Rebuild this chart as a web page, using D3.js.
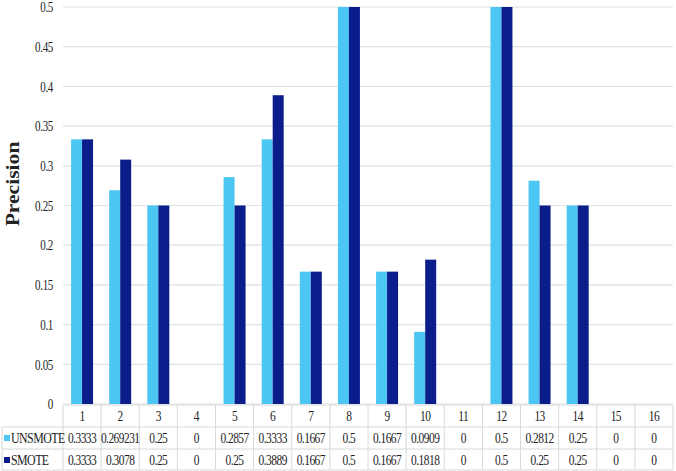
<!DOCTYPE html>
<html>
<head>
<meta charset="utf-8">
<script src="https://cdnjs.cloudflare.com/ajax/libs/d3/7.8.5/d3.min.js"></script>
<style>
  body { margin: 0; background: #fff; }
  text { font-family: "Liberation Serif", "DejaVu Serif", serif; fill: #222; }
</style>
</head>
<body>
<script>
const width = 676;
const height = 471;

// data
const categories = ["1","2","3","4","5","6","7","8","9","10","11","12","13","14","15","16"];
const unsmote = [0.3333, 0.269231, 0.25, 0, 0.2857, 0.3333, 0.1667, 0.5, 0.1667, 0.0909, 0, 0.5, 0.2812, 0.25, 0, 0];
const smote   = [0.3333, 0.3078, 0.25, 0, 0.25, 0.3889, 0.1667, 0.5, 0.1667, 0.1818, 0, 0.5, 0.25, 0.25, 0, 0];
const unsmoteLabels = ["0.3333","0.269231","0.25","0","0.2857","0.3333","0.1667","0.5","0.1667","0.0909","0","0.5","0.2812","0.25","0","0"];
const smoteLabels   = ["0.3333","0.3078","0.25","0","0.25","0.3889","0.1667","0.5","0.1667","0.1818","0","0.5","0.25","0.25","0","0"];
const seriesNames = ["UNSMOTE","SMOTE"];
const yTicks = [0, 0.05, 0.1, 0.15, 0.2, 0.25, 0.3, 0.35, 0.4, 0.45, 0.5];

const colors = ["#4cc6f3", "#0b1d8b"];

const plotLeft = 63, plotRight = 673, plotTop = 7, plotBottom = 404;

const svg = d3.select("body")
    .append("svg")
    .attr("width", width)
    .attr("height", height);

let x = d3.scaleBand()
    .domain(categories)
    .range([plotLeft, plotRight]);

let y = d3.scaleLinear()
    .domain([0, 0.5])
    .range([plotBottom, plotTop]);

let xs = d3.scaleBand()
    .domain(seriesNames)
    .range([0, 22]);

// gridlines
svg.append("g")
    .selectAll("line")
    .data(yTicks)
    .enter()
    .append("line")
    .attr("x1", plotLeft)
    .attr("x2", plotRight)
    .attr("y1", d => y(d))
    .attr("y2", d => y(d))
    .attr("stroke", "#dde2e2")
    .attr("stroke-width", 1.2);

// y tick labels (source text looks tall and narrow)
svg.append("g")
    .selectAll("text")
    .data(yTicks)
    .enter()
    .append("text")
    .attr("transform", d => "translate(53," + y(d) + ") scale(0.85,1.15)")
    .attr("dy", "0.35em")
    .attr("text-anchor", "end")
    .style("font-size", "13px")
    .style("letter-spacing", "-0.4px")
    .text(d => d);

svg.append("text")
    .attr("transform", "translate(19,184) rotate(-90) scale(1.2,1)")
    .attr("text-anchor", "middle")
    .style("font-size", "18px")
    .style("font-weight", "bold")
    .text("Precision");

// bars
const series = [unsmote, smote];
series.forEach(function(vals, s){
    svg.append("g")
        .selectAll("rect")
        .data(vals)
        .enter()
        .append("rect")
        .attr("x", (d, i) => x(categories[i]) + x.bandwidth()/2 - 11 + xs(seriesNames[s]))
        .attr("y", d => y(d))
        .attr("width", xs.bandwidth())
        .attr("height", d => plotBottom - y(d))
        .attr("fill", colors[s]);
});

// data table
const rowTop = [405, 427, 449];
const rowH = 22;
const g = svg.append("g").attr("class", "table");
const lineColor = "#d5dada";

// horizontal lines
[405, 427, 449, 470].forEach(function(yy, k){
    g.append("line")
        .attr("x1", k === 0 ? plotLeft : 2)
        .attr("x2", plotRight)
        .attr("y1", yy).attr("y2", yy)
        .attr("stroke", lineColor);
});
// vertical lines
g.selectAll(".vline")
    .data(categories.concat(["end"]))
    .enter()
    .append("line")
    .attr("x1", (d, i) => plotLeft + i * x.step())
    .attr("x2", (d, i) => plotLeft + i * x.step())
    .attr("y1", 405)
    .attr("y2", 470)
    .attr("stroke", lineColor);
g.append("line")
    .attr("x1", 2).attr("x2", 2)
    .attr("y1", 427).attr("y2", 470)
    .attr("stroke", lineColor);

const rows = [categories, unsmoteLabels, smoteLabels];
rows.forEach(function(r, k){
    g.append("g")
        .selectAll("text")
        .data(r)
        .enter()
        .append("text")
        .attr("transform", (d, i) => "translate(" + (x(categories[i]) + x.bandwidth()/2) + "," + (rowTop[k] + rowH/2) + ") scale(0.88,1.15)")
        .attr("dy", "0.35em")
        .attr("text-anchor", "middle")
        .style("font-size", "13px")
        .style("letter-spacing", "-0.6px")
        .text(d => d);
});

// legend keys in the table
seriesNames.forEach(function(name, s){
    g.append("rect")
        .attr("x", 4)
        .attr("y", rowTop[s+1] + rowH/2 - 3)
        .attr("width", 6)
        .attr("height", 6)
        .attr("fill", colors[s]);
    g.append("text")
        .attr("transform", "translate(11," + (rowTop[s+1] + rowH/2) + ") scale(0.88,1.15)")
        .attr("dy", "0.35em")
        .style("font-size", "13.5px")
        .style("letter-spacing", "-0.6px")
        .text(name);
});
</script>
</body>
</html>
